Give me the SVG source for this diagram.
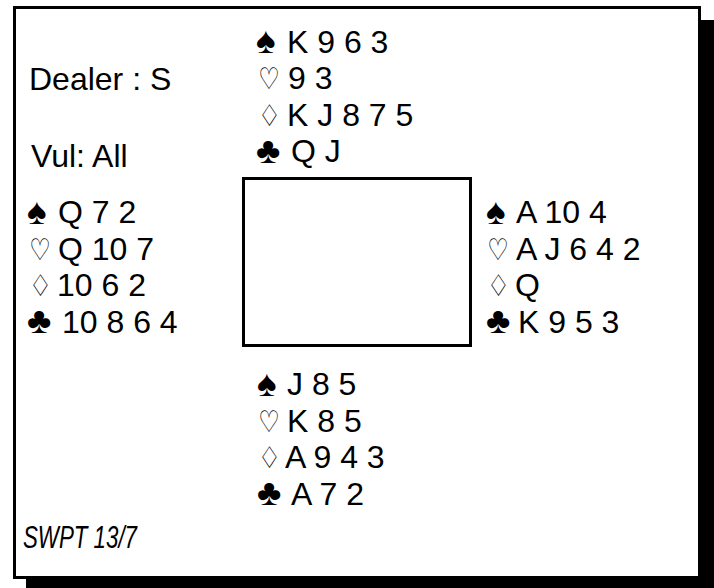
<svg xmlns="http://www.w3.org/2000/svg" width="714" height="588" viewBox="0 0 714 588">
<style>
.t{font-family:"Liberation Sans",Arial,sans-serif;font-size:32px;fill:#000}
.b{font-family:"Liberation Sans","DejaVu Sans",sans-serif;font-size:37px;fill:#000}
.s{font-family:"DejaVu Sans",sans-serif;font-size:30px;fill:#000}
.i{font-family:"Liberation Sans",Arial,sans-serif;font-size:32px;font-style:italic;fill:#000}
</style>
<rect x="0" y="0" width="714" height="588" fill="#fff"/>
<g id="frame">
<rect x="26" y="20" width="688" height="568" fill="#000"/>
<rect x="14.5" y="7.5" width="685" height="570" fill="#fff" stroke="#000" stroke-width="3"/>
</g>
<g id="table"><rect x="243.5" y="178.5" width="227" height="167" fill="#fff" stroke="#000" stroke-width="3"/></g>
<g id="info">
<text class="t" x="29" y="90">Dealer : S</text>
<text class="t" x="31" y="167">Vul: All</text>
<text class="i" x="23" y="548" textLength="114" lengthAdjust="spacingAndGlyphs">SWPT 13/7</text>
</g>
<g id="north">
<text class="b" x="256" y="53">♠</text><text class="t" x="287" y="52.5">K 9 6 3</text>
<text class="s" transform="translate(258,89) scale(0.8,1)">♡</text><text class="t" x="288" y="89">9 3</text>
<text class="s" transform="translate(258,125.5) scale(0.85,1)">♢</text><text class="t" x="287" y="125.5">K J 8 7 5</text>
<text class="b" x="256" y="162.5">♣</text><text class="t" x="291" y="162">Q J</text>
</g>
<g id="west">
<text class="b" x="27" y="223.5">♠</text><text class="t" x="58" y="223">Q 7 2</text>
<text class="s" transform="translate(29,259.5) scale(0.8,1)">♡</text><text class="t" x="58" y="259.5">Q 10 7</text>
<text class="s" transform="translate(29,296) scale(0.85,1)">♢</text><text class="t" x="57" y="296">10 6 2</text>
<text class="b" x="27" y="333">♣</text><text class="t" x="62" y="332.5">10 8 6 4</text>
</g>
<g id="east">
<text class="b" x="486" y="223.5">♠</text><text class="t" x="516" y="223">A 10 4</text>
<text class="s" transform="translate(487,259.5) scale(0.8,1)">♡</text><text class="t" x="516" y="259.5">A J 6 4 2</text>
<text class="s" transform="translate(487,296) scale(0.85,1)">♢</text><text class="t" x="515" y="296">Q</text>
<text class="b" x="486" y="333">♣</text><text class="t" x="518" y="332.5">K 9 5 3</text>
</g>
<g id="south">
<text class="b" x="257" y="395.5">♠</text><text class="t" x="287" y="395">J 8 5</text>
<text class="s" transform="translate(258,431.5) scale(0.8,1)">♡</text><text class="t" x="287" y="431.5">K 8 5</text>
<text class="s" transform="translate(258,468) scale(0.85,1)">♢</text><text class="t" x="285" y="468">A 9 4 3</text>
<text class="b" x="257" y="505">♣</text><text class="t" x="291" y="504.5">A 7 2</text>
</g>
</svg>
